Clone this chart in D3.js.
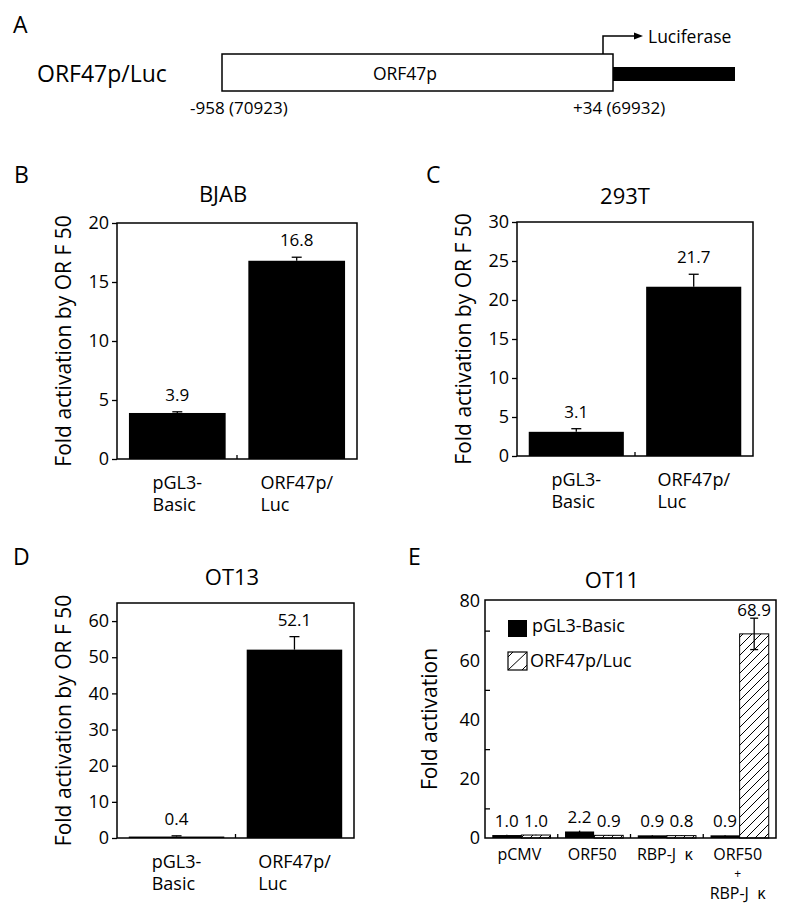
<!DOCTYPE html>
<html><head><meta charset="utf-8">
<script src="https://cdn.jsdelivr.net/npm/d3@7"></script>
<style>
body{margin:0;background:#fff;}
svg{font-family:"Open Sans",sans-serif;}
</style></head><body>
<svg id="c" width="795" height="909"></svg>
<script>
// ---------- data ----------
const bcdCategories = ["pGL3-Basic", "ORF47p/Luc"];
const bcdCategoryLines = [["pGL3-", "Basic"], ["ORF47p/", "Luc"]];
const bjabValues = [3.9, 16.8];
const bjabErrors = [0.1, 0.3];
const bjabTicks = [0, 5, 10, 15, 20];
const t293Values = [3.1, 21.7];
const t293Errors = [0.4, 1.6];
const t293Ticks = [0, 5, 10, 15, 20, 25, 30];
const ot13Values = [0.4, 52.1];
const ot13Errors = [0.2, 3.6];
const ot13Ticks = [0, 10, 20, 30, 40, 50, 60];
const ot11Groups = ["pCMV", "ORF50", "RBP-J", "ORF50+RBP-J"];
const ot11GroupLines = [["pCMV"], ["ORF50"], ["RBP-J  κ"], ["ORF50", "+", "RBP-J  κ"]];
const ot11Series = ["pGL3-Basic", "ORF47p/Luc"];
const ot11Basic = [1.0, 2.2, 0.9, 0.9];
const ot11BasicErr = [0.1, 0.3, 0.1, 0.1];
const ot11Orf47 = [1.0, 0.9, 0.8, 68.9];
const ot11Orf47Err = [0.1, 0.1, 0.1, 5.3];
const ot11Ticks = [0, 20, 40, 60, 80];
const ot11MinorTicks = [10, 30, 50, 70];

const svg = d3.select("#c");
const defs = svg.append("defs");
const pat = defs.append("pattern").attr("id", "hatch").attr("patternUnits", "userSpaceOnUse")
  .attr("width", 9).attr("height", 9);
pat.append("rect").attr("width", 9).attr("height", 9).attr("fill", "#fff");
pat.append("path").attr("d", "M0,9 L9,0 M-2,2 L2,-2 M7,11 L11,7").attr("stroke", "#000").attr("stroke-width", 1);

function letter(t, x, y) {
  svg.append("text").attr("x", x).attr("y", y).attr("font-size", 23).text(t);
}

// ---------- Panel A ----------
letter("A", 13, 33);
svg.append("text").attr("x", 37).attr("y", 82).attr("font-size", 23).text("ORF47p/Luc");
svg.append("rect").attr("x", 222).attr("y", 54).attr("width", 391).attr("height", 37)
  .attr("fill", "#fff").attr("stroke", "#000").attr("stroke-width", 1.5);
svg.append("text").attr("x", 405).attr("y", 80).attr("font-size", 17.5).attr("text-anchor", "middle").text("ORF47p");
svg.append("rect").attr("x", 613).attr("y", 67).attr("width", 122).attr("height", 14).attr("fill", "#000");
svg.append("path").attr("d", "M603,54 V36 H636").attr("fill", "none").attr("stroke", "#000").attr("stroke-width", 1.5);
svg.append("path").attr("d", "M643,36 L634,32.5 L634,39.5 Z").attr("fill", "#000");
svg.append("text").attr("x", 648).attr("y", 43).attr("font-size", 17.5).text("Luciferase");
svg.append("text").attr("x", 190).attr("y", 114).attr("font-size", 17).text("-958 (70923)");
svg.append("text").attr("x", 573).attr("y", 114).attr("font-size", 17).text("+34 (69932)");

// ---------- Panels B, C, D ----------
function barPanel(o) {
  const [l, r, t, b] = o.box;
  const g = svg.append("g");
  const y = d3.scaleLinear().domain(o.domain).range([b, t]);
  const x = d3.scaleBand().domain(bcdCategories).range([l, r]).paddingInner(0.19).paddingOuter(0.1);
  letter(o.letter, o.letterX, o.letterY);
  g.append("text").attr("x", o.titleX).attr("y", o.titleY).attr("font-size", 22).attr("text-anchor", "middle").text(o.title);
  g.selectAll("rect.bar").data(o.values).join("rect").attr("class", "bar")
    .attr("x", (d, i) => x(bcdCategories[i])).attr("width", x.bandwidth())
    .attr("y", d => y(d)).attr("height", d => y(0) - y(d)).attr("fill", "#000");
  o.values.forEach((v, i) => {
    const cx = x(bcdCategories[i]) + x.bandwidth() / 2;
    g.append("line").attr("x1", cx).attr("x2", cx).attr("y1", y(v)).attr("y2", y(v + o.errors[i])).attr("stroke", "#000").attr("stroke-width", 1.3);
    g.append("line").attr("x1", cx - 5).attr("x2", cx + 5).attr("y1", y(v + o.errors[i])).attr("y2", y(v + o.errors[i])).attr("stroke", "#000").attr("stroke-width", 1.3);
    g.append("text").attr("x", cx).attr("y", y(v + o.errors[i]) - 11).attr("font-size", 17).attr("text-anchor", "middle").text(v.toFixed(1));
  });
  g.append("rect").attr("x", l).attr("y", t).attr("width", r - l).attr("height", b - t)
    .attr("fill", "none").attr("stroke", "#000").attr("stroke-width", 1.5);
  const ax = g.append("g").attr("transform", `translate(${l},0)`)
    .call(d3.axisLeft(y).tickValues(o.ticks).tickSize(5).tickPadding(3).tickFormat(d3.format("d")));
  ax.select(".domain").remove();
  ax.selectAll("line").attr("stroke-width", 1.3);
  ax.selectAll("text").attr("font-size", 18).attr("font-family", "Open Sans");
  const sep = (x(bcdCategories[0]) + x.bandwidth() + x(bcdCategories[1])) / 2;
  g.append("line").attr("x1", sep).attr("x2", sep).attr("y1", b).attr("y2", b - 4).attr("stroke", "#000").attr("stroke-width", 1.3);
  bcdCategoryLines.forEach((lines, i) => {
    const cx = x(bcdCategories[i]) + x.bandwidth() / 2;
    const tx = g.append("text").attr("font-size", 18).attr("y", b + 30);
    tx.text(lines[0]);
    const w = tx.node().getComputedTextLength();
    tx.text(null);
    lines.forEach((ln, k) => tx.append("tspan").attr("x", cx - w / 2).attr("y", b + 30 + k * 22).text(ln));
  });
  g.append("text").attr("transform", `translate(${o.ylabelX},${(t + b) / 2}) rotate(-90)`)
    .attr("font-size", 21).attr("text-anchor", "middle").text("Fold activation by OR F 50");
}

barPanel({box: [117, 357, 223, 459], domain: [0, 20], ticks: bjabTicks, values: bjabValues, errors: bjabErrors,
  title: "BJAB", titleX: 223, titleY: 202, letter: "B", letterX: 14, letterY: 183, ylabelX: 71});
barPanel({box: [517, 753, 222, 456], domain: [0, 30], ticks: t293Ticks, values: t293Values, errors: t293Errors,
  title: "293T", titleX: 625, titleY: 204, letter: "C", letterX: 426, letterY: 183, ylabelX: 471});
barPanel({box: [117, 354, 603, 838], domain: [0, 65], ticks: ot13Ticks, values: ot13Values, errors: ot13Errors,
  title: "OT13", titleX: 232, titleY: 585, letter: "D", letterX: 13, letterY: 565, ylabelX: 71});

// ---------- Panel E ----------
(function () {
  const l = 485, r = 776, t = 600, b = 838;
  const g = svg.append("g");
  const y = d3.scaleLinear().domain([0, 80]).range([b, 601]);
  const x0 = d3.scaleBand().domain(ot11Groups).range([l, r]).paddingInner(0.2).paddingOuter(0.1);
  const x1 = d3.scaleBand().domain(ot11Series).range([0, x0.bandwidth()]);
  letter("E", 408, 565);
  g.append("text").attr("x", 612).attr("y", 588).attr("font-size", 22).attr("text-anchor", "middle").text("OT11");
  const seriesVals = [ot11Basic, ot11Orf47];
  const seriesErr = [ot11BasicErr, ot11Orf47Err];
  ot11Series.forEach((s, si) => {
    ot11Groups.forEach((grp, gi) => {
      const v = seriesVals[si][gi], e = seriesErr[si][gi];
      const bx = x0(grp) + x1(s);
      g.append("rect").attr("x", bx).attr("width", x1.bandwidth()).attr("y", y(v)).attr("height", y(0) - y(v))
        .attr("fill", si === 0 ? "#000" : "url(#hatch)").attr("stroke", si === 0 ? "none" : "#000").attr("stroke-width", 1);
      const cx = bx + x1.bandwidth() / 2;
      g.append("line").attr("x1", cx).attr("x2", cx).attr("y1", y(v - e)).attr("y2", y(v + e)).attr("stroke", "#000").attr("stroke-width", 1.3);
      if (e > 1) {
        [v - e, v + e].forEach(vv => g.append("line").attr("x1", cx - 4).attr("x2", cx + 4).attr("y1", y(vv)).attr("y2", y(vv)).attr("stroke", "#000").attr("stroke-width", 1.3));
      }
      const ly = Math.max(y(v + e) - 8, t + 16);
      g.append("text").attr("x", cx).attr("y", ly).attr("font-size", 17).attr("text-anchor", "middle").text(v.toFixed(1));
    });
  });
  g.append("rect").attr("x", l).attr("y", t).attr("width", r - l).attr("height", b - t)
    .attr("fill", "none").attr("stroke", "#000").attr("stroke-width", 1.5);
  const ax = g.append("g").attr("transform", `translate(${l},0)`)
    .call(d3.axisLeft(y).tickValues(ot11Ticks).tickSize(0).tickPadding(5).tickFormat(d3.format("d")));
  ax.select(".domain").remove();
  ax.selectAll("text").attr("font-size", 18).attr("font-family", "Open Sans");
  const minor = g.append("g").attr("transform", `translate(${l},0)`)
    .call(d3.axisRight(y).tickValues(ot11MinorTicks).tickSize(5).tickFormat(""));
  minor.select(".domain").remove();
  minor.selectAll("line").attr("stroke-width", 1.3);
  ot11Groups.slice(1).forEach(grp => {
    const sx = x0(grp) - x0.step() * x0.paddingInner() / 2;
    g.append("line").attr("x1", sx).attr("x2", sx).attr("y1", b).attr("y2", b - 4).attr("stroke", "#000").attr("stroke-width", 1.3);
  });
  // x labels
  ot11GroupLines.forEach((lines, gi) => {
    const cx = x0(ot11Groups[gi]) + x0.bandwidth() / 2 - 2;
    const tx = g.append("text").attr("text-anchor", "middle").style("white-space", "pre");
    const base = [b + 22, b + 39.5, b + 60.5];
    lines.forEach((ln, k) => tx.append("tspan").attr("x", cx).attr("y", base[k])
      .attr("font-size", ln === "+" ? 12 : 16).text(ln));
  });
  // legend
  const lg = g.append("g");
  lg.append("rect").attr("x", l + 23).attr("y", t + 20).attr("width", 19).attr("height", 17).attr("fill", "#000");
  lg.append("text").attr("x", l + 47).attr("y", t + 31.5).attr("font-size", 18).text(ot11Series[0]);
  lg.append("rect").attr("x", l + 23).attr("y", t + 52).attr("width", 19).attr("height", 18)
    .attr("fill", "#fff").attr("stroke", "#000").attr("stroke-width", 1.2);
  lg.append("path").attr("d", `M${l + 23},${t + 70} L${l + 42},${t + 52} M${l + 23},${t + 57} L${l + 28},${t + 52} M${l + 37},${t + 70} L${l + 42},${t + 65}`)
    .attr("stroke", "#000").attr("stroke-width", 1);
  lg.append("text").attr("x", l + 45).attr("y", t + 67).attr("font-size", 18).text(ot11Series[1]);
  g.append("text").attr("transform", `translate(437,${(t + b) / 2}) rotate(-90)`)
    .attr("font-size", 21).attr("text-anchor", "middle").text("Fold activation");
})();
</script></body></html>
